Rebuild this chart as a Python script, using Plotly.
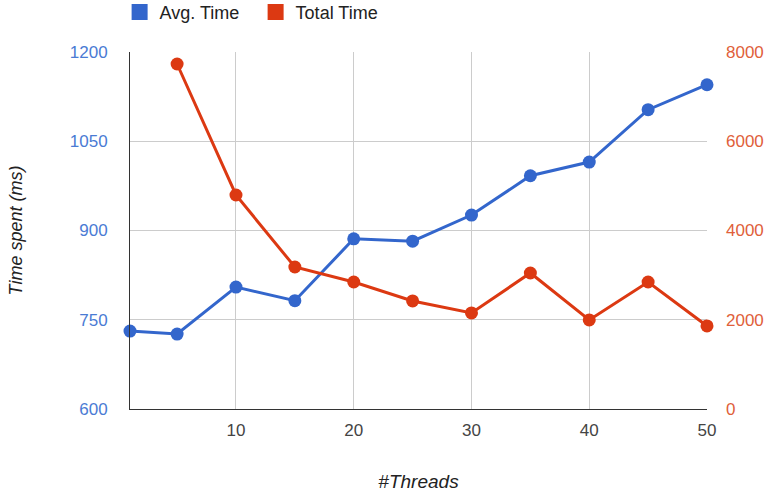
import plotly.graph_objects as go

threads = [1, 5, 10, 15, 20, 25, 30, 35, 40, 45, 50]
avg_time = [731, 726, 805, 782, 886, 882, 926, 992, 1015, 1103, 1145]
total_threads = [5, 10, 15, 20, 25, 30, 35, 40, 45, 50]
total_time = [7731, 4796, 3182, 2846, 2421, 2152, 3048, 1995, 2846, 1861]

left_ticks = [600, 750, 900, 1050, 1200]
right_ticks = [0, 2000, 4000, 6000, 8000]
x_ticks = [10, 20, 30, 40, 50]
series_names = ["Avg. Time", "Total Time"]

BLUE = "#3366cc"
RED = "#dc3912"
FONT = "Liberation Sans, Arial, sans-serif"

fig = go.Figure()
fig.add_trace(go.Scatter(
    x=threads, y=avg_time, name=series_names[0], mode="lines+markers",
    line=dict(color=BLUE, width=3), marker=dict(color=BLUE, size=13),
    yaxis="y", cliponaxis=False, showlegend=False))
fig.add_trace(go.Scatter(
    x=total_threads, y=total_time, name=series_names[1], mode="lines+markers",
    line=dict(color=RED, width=3), marker=dict(color=RED, size=13),
    yaxis="y2", cliponaxis=False, showlegend=False))
# legend entries with square swatches
for nm, col in zip(series_names, [BLUE, RED]):
    fig.add_trace(go.Scatter(x=[None], y=[None], name=nm, mode="markers",
                             marker=dict(color=col, size=16, symbol="square"),
                             showlegend=True))

fig.update_layout(
    width=784, height=492,
    margin=dict(l=130, r=77, t=52, b=83, autoexpand=False),
    paper_bgcolor="white", plot_bgcolor="white",
    font=dict(family=FONT, size=17, color="#444"),
    legend=dict(orientation="h", x=-0.018, y=0.975, xref="paper", yref="container",
                xanchor="left", yanchor="middle",
                font=dict(size=18, color="#222"), itemsizing="trace",
                traceorder="normal", itemwidth=30, entrywidth=91),
    xaxis=dict(range=[1, 50], tickvals=x_ticks, showgrid=True, gridcolor="#cccccc",
               gridwidth=1, zeroline=False, showline=True, linecolor="#333", linewidth=1,
               ticks="", tickfont=dict(color="#444", size=17), ticklabelstandoff=6,
               automargin=False,
               title=dict(text="<i>#Threads</i>", font=dict(size=19, color="#222"), standoff=38)),
    yaxis=dict(range=[600, 1200], tickvals=left_ticks, showgrid=True, gridcolor="#cccccc",
               zeroline=False, showline=True, linecolor="#333", linewidth=1, ticks="",
               tickfont=dict(color="#4a7bd4", size=17), ticklabelstandoff=18,
               automargin=False,
               title=dict(text="<i>Time spent (ms)</i>", font=dict(size=18, color="#222"), standoff=42)),
    yaxis2=dict(range=[0, 8000], tickvals=right_ticks, overlaying="y", side="right",
                showgrid=False, zeroline=False, showline=False, ticks="",
                automargin=False,
                tickfont=dict(color="#e0603a", size=17), ticklabelstandoff=18),
)

fig.write_html("out.html")
